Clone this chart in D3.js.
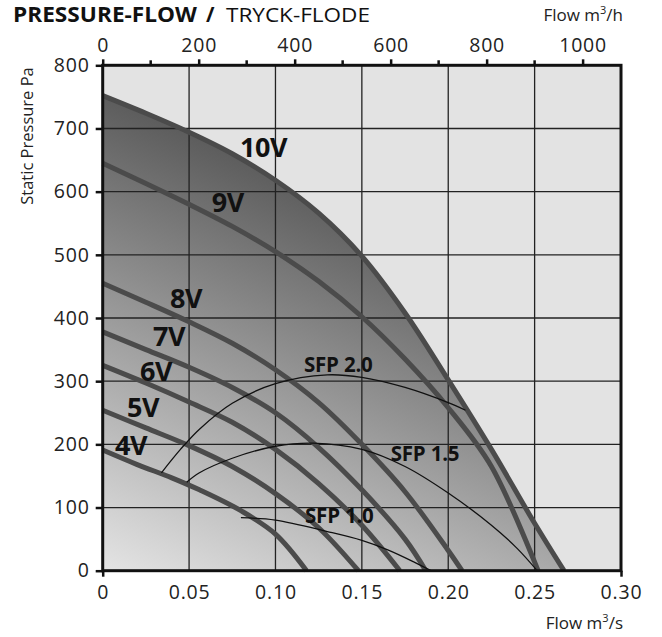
<!DOCTYPE html>
<html><head><meta charset="utf-8">
<script src="https://cdn.jsdelivr.net/npm/d3@7"></script>
<style>
html,body{margin:0;padding:0;background:#fff;}
svg{display:block;font-family:"Open Sans",sans-serif;}
</style></head>
<body>
<svg id="chart" width="662" height="637"></svg>
<script>
// ---------- data ----------
const flowTicksS = [0, 0.05, 0.10, 0.15, 0.20, 0.25, 0.30];
const flowTickLabelsS = ["0", "0.05", "0.10", "0.15", "0.20", "0.25", "0.30"];
const flowTicksH = [0, 200, 400, 600, 800, 1000];
const flowMinorTicksH = [100, 300, 500, 700, 900];
const pressureTicks = [0, 100, 200, 300, 400, 500, 600, 700, 800];

const curveNames = ["4V", "5V", "6V", "7V", "8V", "9V", "10V"];
const curve4V  = [[0,191],[0.02,168],[0.04,147],[0.056,128],[0.08,95],[0.10,58],[0.118,0]];
const curve5V  = [[0,254],[0.025,226],[0.05,198],[0.075,165],[0.10,122],[0.125,68],[0.148,0]];
const curve6V  = [[0,325],[0.025,297],[0.05,267],[0.075,235],[0.10,192],[0.125,138],[0.15,72],[0.172,0]];
const curve7V  = [[0,378],[0.025,350],[0.05,322],[0.075,290],[0.10,250],[0.125,195],[0.15,128],[0.175,50],[0.187,0]];
const curve8V  = [[0,455],[0.025,425],[0.05,394],[0.075,360],[0.10,318],[0.125,266],[0.15,200],[0.175,125],[0.20,32],[0.208,0]];
const curve9V  = [[0,645],[0.025,613],[0.05,580],[0.075,545],[0.10,505],[0.125,458],[0.15,402],[0.175,335],[0.20,258],[0.225,165],[0.252,0]];
const curve10V = [[0,752],[0.025,724],[0.05,694],[0.075,660],[0.10,618],[0.125,566],[0.15,498],[0.175,408],[0.20,302],[0.225,192],[0.25,75],[0.267,0]];
const curves = [curve4V, curve5V, curve6V, curve7V, curve8V, curve9V, curve10V];

const sfpNames = ["SFP 2.0", "SFP 1.5", "SFP 1.0"];
const sfp20 = [[0.034,155],[0.045,192],[0.056,224],[0.075,265],[0.10,296],[0.13,310],[0.15,306],[0.175,290],[0.20,266],[0.21,254]];
const sfp15 = [[0.0486,140],[0.056,155],[0.075,178],[0.10,197],[0.122,202],[0.15,192],[0.175,165],[0.20,123],[0.225,72],[0.24,35],[0.2515,0]];
const sfp10 = [[0.08,84],[0.10,80],[0.13,62],[0.15,48],[0.165,33],[0.18,14],[0.19,0]];
const sfpCurves = [sfp20, sfp15, sfp10];

// label anchors in data units (flow m3/s, pressure Pa)
const curveLabelFlow = [0.0071, 0.0141, 0.0216, 0.0291, 0.039, 0.0631, 0.0795];
const curveLabelPressure = [183, 244, 301, 355, 416, 568, 655];
const sfpLabelFlow = [0.1165, 0.1667, 0.1171];
const sfpLabelPressure = [315, 174, 76];

// ---------- layout ----------
const svg = d3.select("#chart");
const x = d3.scaleLinear().domain([0, 0.30]).range([102.7, 621]);
const xH = d3.scaleLinear().domain([0, 1080]).range([102.7, 621]);
const y = d3.scaleLinear().domain([0, 800]).range([570.7, 65.3]);

const defs = svg.append("defs");
const grad = defs.append("linearGradient").attr("id", "shade")
  .attr("gradientUnits", "userSpaceOnUse")
  .attr("x1", x(0)).attr("y1", y(0))
  .attr("x2", x(0.114)).attr("y2", y(695));
grad.append("stop").attr("offset", 0).attr("stop-color", "#e4e4e4");
grad.append("stop").attr("offset", 1).attr("stop-color", "#4e4e4e");

// plot background
svg.append("rect").attr("x", x(0)).attr("y", y(800))
  .attr("width", x(0.30) - x(0)).attr("height", y(0) - y(800))
  .attr("fill", "#e3e3e3");

// shaded area under 10V
const area = d3.area().x(d => x(d[0])).y0(y(0)).y1(d => y(d[1])).curve(d3.curveCatmullRom);
svg.append("path").datum(curve10V).attr("d", area).attr("fill", "url(#shade)");

// grid
const g = svg.append("g");
g.selectAll(".vg").data(flowTicksS.slice(1, -1)).enter().append("line")
  .attr("x1", d => x(d)).attr("x2", d => x(d)).attr("y1", y(0)).attr("y2", y(800))
  .attr("stroke", "#222").attr("stroke-width", 1.3);
g.selectAll(".hg").data(pressureTicks.slice(1, -1)).enter().append("line")
  .attr("x1", x(0)).attr("x2", x(0.30)).attr("y1", d => y(d)).attr("y2", d => y(d))
  .attr("stroke", "#222").attr("stroke-width", 1.3);

// curves
const line = d3.line().x(d => x(d[0])).y(d => y(d[1])).curve(d3.curveCatmullRom);
svg.append("g").selectAll("path").data(curves).enter().append("path")
  .attr("d", line).attr("fill", "none").attr("stroke", "#4b4b4b").attr("stroke-width", 5);

const sfpLine = d3.line().x(d => x(d[0])).y(d => y(d[1])).curve(d3.curveCatmullRom);
svg.append("g").selectAll("path").data(sfpCurves).enter().append("path")
  .attr("d", sfpLine).attr("fill", "none").attr("stroke", "#111").attr("stroke-width", 1.3);

// frame
svg.append("rect").attr("x", x(0)).attr("y", y(800))
  .attr("width", x(0.30) - x(0)).attr("height", y(0) - y(800))
  .attr("fill", "none").attr("stroke", "#111").attr("stroke-width", 3);

// left axis
const leftAxis = d3.axisLeft(y).tickValues(pressureTicks).tickSize(7).tickPadding(6);
const la = svg.append("g").attr("transform", `translate(${x(0)},0)`).call(leftAxis);
la.select(".domain").remove();
la.selectAll("line").attr("stroke", "#111").attr("stroke-width", 2.5);
la.selectAll("text").attr("font-size", 19.5).attr("fill", "#222").attr("letter-spacing", 0.8)
  .attr("font-family", "Open Sans");

// bottom axis
const bottomAxis = d3.axisBottom(x).tickValues(flowTicksS)
  .tickFormat((d, i) => flowTickLabelsS[i]).tickSize(6).tickPadding(8);
const ba = svg.append("g").attr("transform", `translate(0,${y(0)})`).call(bottomAxis);
ba.select(".domain").remove();
ba.selectAll(".tick line").attr("stroke", "#111").attr("stroke-width", 2.5)
  .attr("opacity", d => (d === 0 || d === 0.30) ? 1 : 0);
ba.selectAll("text").attr("font-size", 19.5).attr("fill", "#222").attr("letter-spacing", 0.8)
  .attr("font-family", "Open Sans");

// top axis
const topAxis = d3.axisTop(xH).tickValues(flowTicksH).tickFormat(d3.format("d")).tickSize(6).tickPadding(7);
const ta = svg.append("g").attr("transform", `translate(0,${y(800)})`).call(topAxis);
ta.select(".domain").remove();
ta.selectAll("line").attr("stroke", "#111").attr("stroke-width", 2.5);
ta.selectAll("text").attr("font-size", 19.5).attr("fill", "#222").attr("letter-spacing", 0.8)
  .attr("font-family", "Open Sans");
svg.append("g").selectAll("line").data(flowMinorTicksH).enter().append("line")
  .attr("x1", d => xH(d)).attr("x2", d => xH(d)).attr("y1", y(800)).attr("y2", y(800) - 5)
  .attr("stroke", "#111").attr("stroke-width", 2.5);

// curve labels
svg.append("g").selectAll("text").data(curveNames).enter().append("text")
  .attr("x", (d, i) => x(curveLabelFlow[i])).attr("y", (d, i) => y(curveLabelPressure[i]))
  .attr("font-size", 27).attr("font-weight", 700).attr("fill", "#111")
  .attr("letter-spacing", -0.5).text(d => d);

svg.append("g").selectAll("text").data(sfpNames).enter().append("text")
  .attr("x", (d, i) => x(sfpLabelFlow[i])).attr("y", (d, i) => y(sfpLabelPressure[i]))
  .attr("font-size", 20.5).attr("font-weight", 700).attr("fill", "#111")
  .attr("letter-spacing", -0.2).text(d => d);

// titles
svg.append("text").attr("x", 13).attr("y", 22).attr("font-size", 20.5).attr("font-weight", 700)
  .attr("fill", "#111").attr("textLength", 184).attr("lengthAdjust", "spacingAndGlyphs")
  .text("PRESSURE-FLOW");
svg.append("text").attr("x", 206).attr("y", 22).attr("font-size", 20.5).attr("font-weight", 700)
  .attr("fill", "#111").text("/");
svg.append("text").attr("x", 226).attr("y", 22).attr("font-size", 20.5).attr("font-weight", 400)
  .attr("fill", "#111").attr("textLength", 144).attr("lengthAdjust", "spacingAndGlyphs")
  .text("TRYCK-FLODE");

const fh = svg.append("text").attr("x", 623).attr("y", 21).attr("text-anchor", "end")
  .attr("font-size", 17).attr("fill", "#222");
fh.append("tspan").text("Flow m");
fh.append("tspan").attr("font-size", 11).attr("dy", -7).text("3");
fh.append("tspan").attr("dy", 7).text("/h");

const fs = svg.append("text").attr("x", 623).attr("y", 629).attr("text-anchor", "end")
  .attr("font-size", 17).attr("fill", "#222");
fs.append("tspan").text("Flow m");
fs.append("tspan").attr("font-size", 11).attr("dy", -7).text("3");
fs.append("tspan").attr("dy", 7).text("/s");

svg.append("text").attr("transform", `translate(33,136) rotate(-90)`)
  .attr("text-anchor", "middle").attr("font-size", 16.5).attr("fill", "#222")
  .text("Static Pressure Pa");
</script>
</body></html>
